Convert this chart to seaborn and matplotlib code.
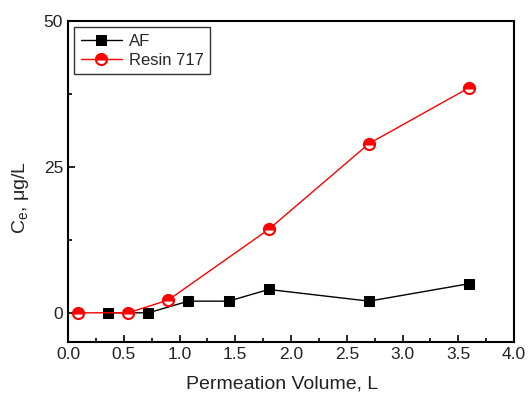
import matplotlib
matplotlib.use("Agg")
import matplotlib.pyplot as plt
import seaborn as sns
from matplotlib.ticker import MultipleLocator

sns.set_theme(style="ticks")
plt.rcParams['font.family'] = ['Liberation Sans', 'DejaVu Sans']
plt.rcParams['mathtext.fontset'] = 'custom'
plt.rcParams['mathtext.rm'] = 'Liberation Sans'
plt.rcParams['mathtext.it'] = 'Liberation Sans'

af_x = [0.36, 0.72, 1.08, 1.44, 1.80, 2.70, 3.60]
af_y = [0.0, 0.0, 2.0, 2.0, 4.0, 2.0, 5.0]
resin_x = [0.09, 0.54, 0.90, 1.80, 2.70, 3.60]
resin_y = [0.0, 0.0, 2.2, 14.3, 29.0, 38.6]

fig = plt.figure(figsize=(5.28, 3.93), dpi=100)
ax = fig.add_axes([68/528, 1-342/393, (514-68)/528, (342-21)/393])

sns.lineplot(x=af_x, y=af_y, ax=ax, color='black', lw=1.0, marker='s',
             markersize=7, markeredgecolor='black', markerfacecolor='black',
             label='AF', sort=False)
sns.lineplot(x=resin_x, y=resin_y, ax=ax, color='red', lw=1.0, marker='o',
             markersize=8, markeredgecolor='red', markerfacecolor='red',
             fillstyle='top', markerfacecoloralt='white', markeredgewidth=1.5,
             label='Resin 717', sort=False)

ax.set_xlim(0, 4.0)
ax.set_ylim(-5, 50)
ax.xaxis.set_major_locator(MultipleLocator(0.5))
ax.xaxis.set_minor_locator(MultipleLocator(0.25))
ax.yaxis.set_major_locator(MultipleLocator(25))
ax.yaxis.set_minor_locator(MultipleLocator(12.5))
ax.xaxis.set_major_formatter(matplotlib.ticker.FormatStrFormatter('%.1f'))
ax.tick_params(which='both', direction='in', top=False, right=False, colors='black',
               labelsize=12.5, width=1.2, labelcolor='#222222')
ax.tick_params(which='major', length=5)
ax.tick_params(which='minor', length=3)
for s in ax.spines.values():
    s.set_linewidth(1.5)
    s.set_color('black')

ax.set_xlabel('Permeation Volume, L', fontsize=14, color='#222222')
ax.set_ylabel(r'C$_\mathregular{e}$, μg/L', fontsize=14, color='#222222')
ax.xaxis.set_label_coords(0.479, -0.105)
ax.yaxis.set_label_coords(-0.083, 0.45)

leg = ax.legend(loc='upper left', fontsize=12, frameon=True, fancybox=False,
                edgecolor='black', borderaxespad=0.35, handlelength=2.5,
                borderpad=0.4, labelspacing=0.25, handletextpad=0.4)
leg.get_frame().set_linewidth(1.0)

fig.savefig('out.png', dpi=100)
